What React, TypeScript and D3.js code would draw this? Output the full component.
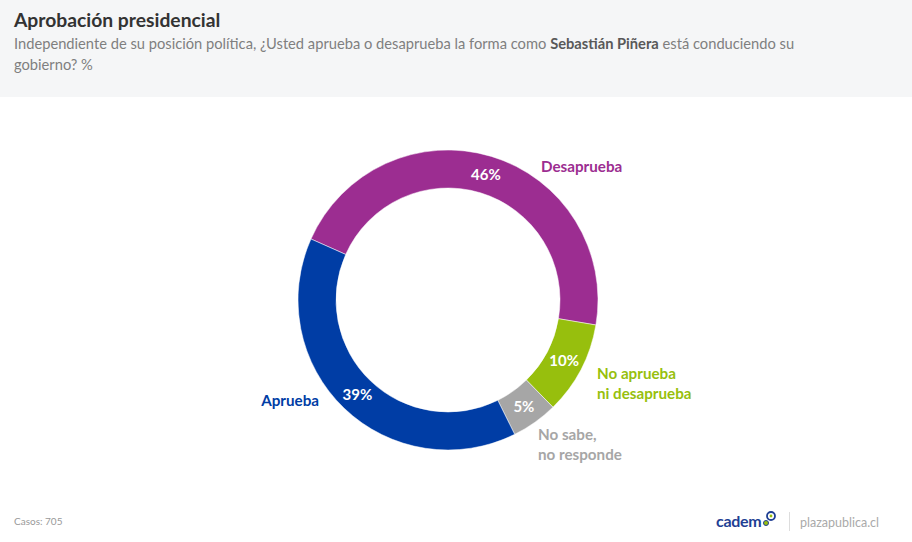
import React from "react";
import * as d3 from "d3";

const categories = ["Desaprueba", "No aprueba ni desaprueba", "No sabe, no responde", "Aprueba"];
const values = [46, 10, 5, 39];
const colors = ["#9C2D91", "#97BF0D", "#A6A6A6", "#003DA5"];
const labelLines = [["Desaprueba"], ["No aprueba", "ni desaprueba"], ["No sabe,", "no responde"], ["Aprueba"]];

const W = 912, H = 542;
const cx = 448, cy = 300;
const rOuter = 150, rInner = 112;
const startDeg = -66;

export default function App() {
  const pie = d3.pie<number>().sort(null)
    .startAngle((startDeg * Math.PI) / 180)
    .endAngle((startDeg * Math.PI) / 180 + 2 * Math.PI);
  const arcs = pie(values);
  const arc = d3.arc<d3.PieArcDatum<number>>().innerRadius(rInner).outerRadius(rOuter);
  const font = "Lato, 'Open Sans', sans-serif";

  const outside = [
    { x: 541, y: 172, anchor: "start" },
    { x: 597, y: 379, anchor: "start" },
    { x: 538, y: 440, anchor: "start" },
    { x: 319, y: 406, anchor: "end" },
  ];

  return (
    <svg width={W} height={H} style={{ position: "absolute", left: 0, top: 0, background: "#fff" }} fontFamily={font}>
      <rect x={0} y={0} width={W} height={97} fill="#F5F6F7" />
      <text x={14} y={27} fontSize={19.3} fontWeight={700} fill="#333">Aprobación presidencial</text>
      <text x={14} y={49} fontSize={14.7} fill="#7f7f7f">
        Independiente de su posición política, ¿Usted aprueba o desaprueba la forma como{" "}
        <tspan fontWeight={700} fill="#595959">Sebastián Piñera</tspan> está conduciendo su
      </text>
      <text x={14} y={70} fontSize={14.7} fill="#7f7f7f">gobierno? %</text>

      <g transform={`translate(${cx},${cy})`}>
        {arcs.map((a, i) => (
          <path key={categories[i]} d={arc(a) || ""} fill={colors[i]} stroke="#fff" strokeWidth={0.5} />
        ))}
        {arcs.map((a, i) => {
          const [x, y] = arc.centroid(a);
          return (
            <text key={"p" + i} x={x} y={y + 5} textAnchor="middle" fontSize={15} fontWeight={700} fill="#fff">
              {values[i]}%
            </text>
          );
        })}
      </g>

      {labelLines.map((lines, i) => (
        <text key={"l" + i} x={outside[i].x} y={outside[i].y} textAnchor={outside[i].anchor as any}
          fontSize={15.2} fontWeight={700} fill={colors[i]}>
          {lines.map((ln, j) => (
            <tspan key={j} x={outside[i].x} dy={j === 0 ? 0 : 20}>{ln}</tspan>
          ))}
        </text>
      ))}

      <text x={14} y={525} fontSize={10} fill="#999">Casos: 705</text>

      <text x={716} y={527} fontSize={16} fontWeight={700} fill="#1F3F94" letterSpacing={-0.3}>cadem</text>
      <circle cx={766} cy={523} r={2.5} fill="#97BF0D" stroke="#1F3F94" strokeWidth={1} />
      <circle cx={771} cy={516} r={4} fill="none" stroke="#1F3F94" strokeWidth={1.8} />
      <circle cx={771} cy={516} r={1.4} fill="#97BF0D" />
      <line x1={789.5} y1={512} x2={789.5} y2={531} stroke="#ddd" strokeWidth={1} />
      <text x={800} y={527} fontSize={12.5} fill="#aaa">plazapublica.cl</text>
    </svg>
  );
}
